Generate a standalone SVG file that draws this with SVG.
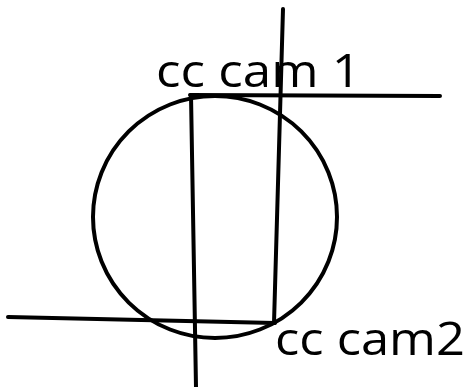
<svg xmlns="http://www.w3.org/2000/svg" width="468" height="387" viewBox="0 0 468 387">
<style>
.ln{stroke:#000;stroke-width:4;fill:none;stroke-linecap:round}
.lbl{font-family:"Open Sans","Liberation Sans",Arial,sans-serif;font-size:46px;fill:#000}
</style>
<rect width="468" height="387" fill="#fff"/>
<g id="circle"><ellipse class="ln" cx="215" cy="217" rx="122" ry="121"/></g>
<g id="connectors">
<line class="ln" x1="283" y1="9" x2="274" y2="323"/>
<line class="ln" x1="190" y1="95" x2="440" y2="96"/>
<line class="ln" x1="191" y1="95" x2="196" y2="387"/>
<line class="ln" x1="8" y1="317" x2="275" y2="323"/>
</g>
<g id="label1"><text class="lbl" x="156" y="87" textLength="205" lengthAdjust="spacingAndGlyphs">cc cam 1</text></g>
<g id="label2"><text class="lbl" x="275" y="355" textLength="190" lengthAdjust="spacingAndGlyphs">cc cam2</text></g>
</svg>
